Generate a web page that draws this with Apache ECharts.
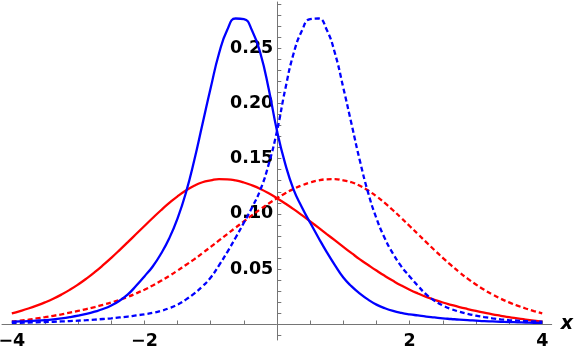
<!DOCTYPE html>
<html>
<head>
<meta charset="utf-8">
<script src="https://cdn.jsdelivr.net/npm/echarts@6/dist/echarts.min.js"></script>
<style>
    html, body { margin: 0; padding: 0; background: #fff; }
    #chart { width: 575px; height: 349px; }
</style>
</head>
<body>
<div id="chart"></div>
<script>
// x positions where the curves were read
const xs = [
    -4, -3.875, -3.75, -3.625, -3.5, -3.375, -3.25, -3.125,
    -3, -2.875, -2.75, -2.625, -2.5, -2.375, -2.25, -2.125,
    -2, -1.875, -1.75, -1.625, -1.5, -1.375, -1.25, -1.125,
    -1, -0.875, -0.75, -0.625, -0.5, -0.375, -0.25, -0.125,
    0,
    0.125, 0.25, 0.375, 0.5, 0.625, 0.75, 0.875, 1,
    1.125, 1.25, 1.375, 1.5, 1.625, 1.75, 1.875, 2,
    2.125, 2.25, 2.375, 2.5, 2.625, 2.75, 2.875, 3,
    3.125, 3.25, 3.375, 3.5, 3.625, 3.75, 3.875, 4
];

const blueSolid = [
    0.0025, 0.0028, 0.0031, 0.0035, 0.004, 0.0047, 0.0056, 0.0067,
    0.008, 0.0096, 0.0116, 0.014, 0.0172, 0.0215, 0.0272, 0.035,
    0.0435, 0.0525, 0.064, 0.078, 0.096, 0.119, 0.148, 0.181,
    0.214, 0.245, 0.2665, 0.2767, 0.2762, 0.2655, 0.245, 0.213,
    0.175,
    0.145, 0.122, 0.106, 0.092, 0.0785, 0.0655, 0.0535, 0.0425,
    0.0345, 0.028, 0.0225, 0.018, 0.0148, 0.0123, 0.0105, 0.0092,
    0.0082, 0.0072, 0.0064, 0.0056, 0.005, 0.0044, 0.0039, 0.0035,
    0.0031, 0.0028, 0.0025, 0.0022, 0.002, 0.0018, 0.0016, 0.0015
];

const blueDashed = [
    0.0015, 0.0016, 0.0018, 0.002, 0.0022, 0.0025, 0.0028, 0.0031,
    0.0035, 0.0039, 0.0044, 0.005, 0.0056, 0.0064, 0.0072, 0.0082,
    0.0092, 0.0105, 0.0123, 0.0148, 0.018, 0.0225, 0.028, 0.0345,
    0.0425, 0.0535, 0.0655, 0.0785, 0.092, 0.106, 0.122, 0.145,
    0.175,
    0.213, 0.245, 0.2655, 0.2762, 0.2767, 0.2665, 0.245, 0.214,
    0.181, 0.148, 0.119, 0.096, 0.078, 0.064, 0.0525, 0.0435,
    0.035, 0.0272, 0.0215, 0.0172, 0.014, 0.0116, 0.0096, 0.008,
    0.0067, 0.0056, 0.0047, 0.004, 0.0035, 0.0031, 0.0028, 0.0025
];

const redSolid = [
    0.0101, 0.0122, 0.0145, 0.0171, 0.0200, 0.0233, 0.0271, 0.0314,
    0.0362, 0.0415, 0.0473, 0.0536, 0.0603, 0.0673, 0.0745, 0.0818,
    0.0891, 0.0963, 0.1033, 0.1099, 0.1159, 0.1211, 0.1254, 0.1286,
    0.1303, 0.1315, 0.1313, 0.1303, 0.1284, 0.1258, 0.1226, 0.1187,
    0.1142,
    0.1094, 0.1043, 0.0989, 0.0933, 0.0876, 0.0818, 0.076, 0.0702,
    0.0645, 0.0589, 0.0538, 0.0488, 0.044, 0.0395, 0.0353, 0.0315,
    0.0281, 0.025, 0.0223, 0.0199, 0.0178, 0.0158, 0.014, 0.0123,
    0.0107, 0.0092, 0.0079, 0.0066, 0.0055, 0.0044, 0.0034, 0.0025
];

const redDashed = [
    0.0025, 0.0034, 0.0044, 0.0055, 0.0066, 0.0079, 0.0092, 0.0107,
    0.0123, 0.014, 0.0158, 0.0178, 0.0199, 0.0223, 0.025, 0.0281,
    0.0315, 0.0353, 0.0395, 0.044, 0.0488, 0.0538, 0.0589, 0.0645,
    0.0702, 0.076, 0.0818, 0.0876, 0.0933, 0.0989, 0.1043, 0.1094,
    0.1142,
    0.1187, 0.1226, 0.1258, 0.1284, 0.1303, 0.1313, 0.1315, 0.1303,
    0.1286, 0.1254, 0.1211, 0.1159, 0.1099, 0.1033, 0.0963, 0.0891,
    0.0818, 0.0745, 0.0673, 0.0603, 0.0536, 0.0473, 0.0415, 0.0362,
    0.0314, 0.0271, 0.0233, 0.0200, 0.0171, 0.0145, 0.0122, 0.0101
];

// ticks and labels
const xTicks = [-4, -3.5, -3, -2.5, -2, -1.5, -1, -0.5, 0.5, 1, 1.5, 2, 2.5, 3, 3.5, 4];
const xLabels = [-4, -2, 2, 4];
const yTicks = [-0.01, 0.01, 0.02, 0.03, 0.04, 0.05, 0.06, 0.07, 0.08, 0.09, 0.1,
    0.11, 0.12, 0.13, 0.14, 0.15, 0.16, 0.17, 0.18, 0.19, 0.2,
    0.21, 0.22, 0.23, 0.24, 0.25, 0.26, 0.27, 0.28, 0.29];
const yLabels = [0.05, 0.1, 0.15, 0.2, 0.25];

const pairs = (ys) => xs.map((x, i) => [x, ys[i]]);

const axisGray = '#757575';
const labelFont = {
    color: '#000',
    fontFamily: 'DejaVu Sans',
    fontWeight: 'bold',
    fontSize: 17.5,
};

const chart = echarts.init(document.getElementById('chart'));

function curve(name, ys, color, dashed) {
    return {
        name,
        type: 'line',
        data: pairs(ys),
        smooth: 0.5,
        showSymbol: false,
        lineStyle: {
            color,
            width: 2.3,
            type: dashed ? [5, 3] : 'solid',
        },
    };
}

chart.setOption({
    animation: false,
    grid: {left: 2, right: 23.3, top: 2, bottom: 9, outerBoundsMode: 'none', containLabel: false},
    xAxis: {
        type: 'value',
        min: -4.148,
        max: 4.143,
        // moved up onto y = 0
        offset: -15.5,
        name: 'x',
        nameLocation: 'end',
        nameGap: 9,
        nameTextStyle: {
            color: '#000',
            fontFamily: 'DejaVu Sans',
            fontWeight: 'bold',
            fontStyle: 'italic',
            fontSize: 19,
        },
        axisLine: {onZero: false, lineStyle: {color: axisGray, width: 1}},
        axisTick: {inside: true, length: 4, customValues: xTicks, lineStyle: {color: axisGray}},
        axisLabel: {
            ...labelFont,
            margin: 8,
            customValues: xLabels,
            formatter: (v) => String(v).replace('-', '\u2212'),
        },
        splitLine: {show: false},
    },
    yAxis: {
        type: 'value',
        min: -0.014,
        max: 0.2916,
        // moved right onto x = 0
        offset: -275.3,
        axisLine: {onZero: false, lineStyle: {color: axisGray, width: 1}},
        axisTick: {inside: true, length: 4, customValues: yTicks, lineStyle: {color: axisGray}},
        axisLabel: {
            ...labelFont,
            margin: 4,
            customValues: yLabels,
            formatter: (v) => v.toFixed(2),
        },
        splitLine: {show: false},
    },
    series: [
        curve('redSolid', redSolid, '#ff0000', false),
        curve('redDashed', redDashed, '#ff0000', true),
        curve('blueSolid', blueSolid, '#0000ff', false),
        curve('blueDashed', blueDashed, '#0000ff', true),
    ],
});
</script>
</body>
</html>
